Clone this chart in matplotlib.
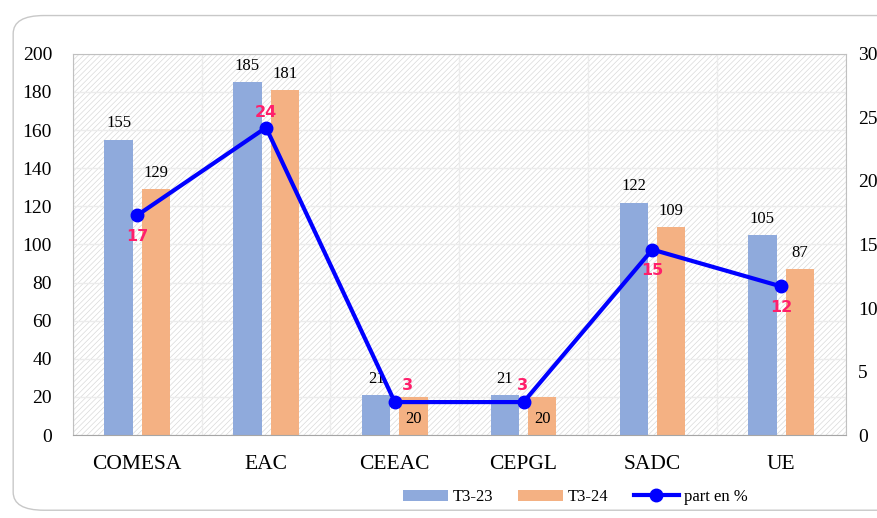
import matplotlib.pyplot as plt
import numpy as np
from matplotlib.patches import FancyBboxPatch

categories = ["COMESA", "EAC", "CEEAC", "CEPGL", "SADC", "UE"]
t3_23 = [155, 185, 21, 21, 122, 105]
t3_24 = [129, 181, 20, 20, 109, 87]
part = [17.3, 24.2, 2.6, 2.6, 14.6, 11.7]
# label placement for the % labels (dx, dy in points)
part_offsets = [(0, -15), (0, 11), (9, 12), (-1, 12), (0, -15), (0, -15)]

plt.rcParams['hatch.linewidth'] = 0.5
plt.rcParams['hatch.color'] = '#d9d9d9'
serif = 'Liberation Serif'

fig = plt.figure(figsize=(8.78, 5.18), dpi=100)
frame = FancyBboxPatch((0.015, 0.015), 1.2, 0.955, boxstyle="round,pad=0,rounding_size=0.035",
                       transform=fig.transFigure, facecolor='white', edgecolor='#c8c8c8',
                       linewidth=1.0, zorder=-5)
fig.patches.append(frame)

ax = fig.add_axes([0.083, 0.160, 0.880, 0.736])
ax.patch.set_facecolor('white')
ax.patch.set_hatch('//////')
ax.patch.set_edgecolor('#d9d9d9')

x = np.arange(len(categories))
w = 0.22
b1 = ax.bar(x - 0.145, t3_23, w, color='#8faadc', label='T3-23', zorder=2)
b2 = ax.bar(x + 0.145, t3_24, w, color='#f4b183', label='T3-24', zorder=2)

for i, v in enumerate(t3_23):
    ax.annotate(str(v), (x[i] - 0.145, v), xytext=(0, 6), textcoords='offset points',
                ha='center', va='bottom', fontsize=12, family=serif)
for i, v in enumerate(t3_24):
    if v < 50:
        ax.annotate(str(v), (x[i] + 0.145, v), xytext=(0, -10), textcoords='offset points',
                    ha='center', va='top', fontsize=12, family=serif)
    else:
        ax.annotate(str(v), (x[i] + 0.145, v), xytext=(0, 6), textcoords='offset points',
                    ha='center', va='bottom', fontsize=12, family=serif)

ax.set_ylim(0, 200)
ax.set_xlim(-0.5, 5.5)
ax.set_yticks(range(0, 201, 20))
ax.set_xticks(x)
ax.set_xticklabels(categories, fontsize=15.5, family=serif)
ax.set_xticks(np.arange(-0.5, 6, 0.5), minor=True)
ax.tick_params(axis='y', labelsize=14, length=0, pad=15)
ax.tick_params(axis='x', length=0, pad=14, which='both')
for lab in ax.get_yticklabels():
    lab.set_family(serif)
ax.grid(True, axis='y', color='#ececec', linewidth=1.0, zorder=1)
ax.grid(True, axis='x', which='minor', color='#ececec', linewidth=1.0, zorder=1)
ax.set_axisbelow(True)
for s in ['top', 'left', 'right']:
    ax.spines[s].set_color('#c0c0c0')
ax.spines['bottom'].set_color('#a6a6a6')

ax2 = ax.twinx()
ln, = ax2.plot(x, part, color='#0000ff', linewidth=3, marker='o', markersize=9,
               label='part en %', zorder=3)
for i, v in enumerate(part):
    ax2.annotate(f"{v:.0f}", (x[i], v), xytext=part_offsets[i], textcoords='offset points',
                 ha='center', va='center', fontsize=11.5, fontweight='bold', color='#ff1f6b')
ax2.set_ylim(0, 30)
ax2.set_yticks(range(0, 31, 5))
ax2.tick_params(axis='y', labelsize=14, length=0, pad=9)
for lab in ax2.get_yticklabels():
    lab.set_family(serif)
for s in ax2.spines.values():
    s.set_visible(False)

fig.legend(handles=[b1, b2, ln], labels=['T3-23', 'T3-24', 'part en %'],
           loc='center', bbox_to_anchor=(0.655, 0.04), ncol=3, frameon=False,
           prop={'family': serif, 'size': 12}, handlelength=2.7, columnspacing=1.5,
           handletextpad=0.3)

fig.savefig('out.png', dpi=100)
